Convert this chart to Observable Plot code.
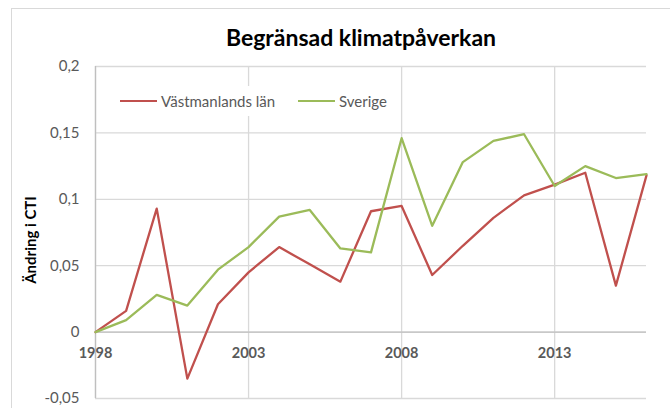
<!DOCTYPE html>
<html><head><meta charset="utf-8">
<script src="https://cdn.jsdelivr.net/npm/d3@7"></script>
<script src="https://cdn.jsdelivr.net/npm/@observablehq/plot@0.6"></script>
<style>
body{margin:0;background:#fff;font-family:Lato, sans-serif;}
#wrap{position:relative;width:670px;height:408px;overflow:hidden;background:#fff;}
#frame{position:absolute;left:11px;top:8px;width:700px;height:440px;border:1.5px solid #d9d9d9;box-sizing:border-box;}
#chart{position:absolute;left:0;top:0;}
#title{position:absolute;left:0;width:722px;top:22px;text-align:center;font-weight:bold;font-size:23px;color:#000;line-height:30px;}
#ylabel{position:absolute;left:30px;top:240px;transform:translate(-50%,-50%) rotate(-90deg);font-weight:bold;font-size:15px;color:#000;white-space:nowrap;}
#legend{position:absolute;left:112px;top:86px;height:30px;width:283px;background:#fff;}
.item{position:absolute;top:0;height:30px;display:flex;align-items:center;font-size:15px;color:#595959;white-space:nowrap;}
.swatch{display:inline-block;width:37px;height:0;border-top:2.5px solid;margin-right:4px;}
</style></head><body>
<div id="wrap">
<div id="frame"></div>
<div id="chart"></div>
<div id="title">Begränsad klimatpåverkan</div>
<div id="ylabel">Ändring i CTI</div>
<div id="legend"></div>
</div>
<script>
const years = [1998,1999,2000,2001,2002,2003,2004,2005,2006,2007,2008,2009,2010,2011,2012,2013,2014,2015,2016];
const vastmanland = [0,0.016,0.093,-0.035,0.021,0.045,0.064,0.051,0.038,0.091,0.095,0.043,0.065,0.086,0.103,0.111,0.120,0.035,0.118];
const sverige = [0,0.009,0.028,0.020,0.047,0.064,0.087,0.092,0.063,0.060,0.146,0.080,0.128,0.144,0.149,0.110,0.125,0.116,0.119];
const seriesNames = ["Västmanlands län","Sverige"];
const seriesColors = ["#c0504d","#9bbb59"];
const yTicks = [-0.05,0,0.05,0.1,0.15,0.2];
const xTicks = [1998,2003,2008,2013];

const data = years.flatMap((yr,i)=>[
  {year:yr,value:vastmanland[i],series:seriesNames[0]},
  {year:yr,value:sverige[i],series:seriesNames[1]}
]);

const chart = Plot.plot({
  width:670,height:408,
  marginLeft:95,marginRight:24,marginTop:66,marginBottom:10,
  x:{domain:[1998,2016],axis:null},
  y:{domain:[-0.05,0.2],axis:null},
  color:{domain:seriesNames,range:seriesColors},
  style:{fontFamily:"Lato, sans-serif",background:"transparent",overflow:"visible"},
  marks:[
    Plot.ruleY(yTicks,{stroke:"#d9d9d9",strokeWidth:1.3}),
    Plot.ruleX(xTicks,{stroke:"#d9d9d9",strokeWidth:1.3}),
    Plot.ruleX([1998],{stroke:"#bfbfbf",strokeWidth:1.3}),
    Plot.ruleY([0],{stroke:"#bfbfbf",strokeWidth:1.3}),
    Plot.line(data,{x:"year",y:"value",z:"series",stroke:"series",strokeWidth:2.3}),
    Plot.axisY(yTicks,{tickFormat:d=>String(d).replace(".",","),tickSize:0,tickPadding:16,fontSize:15,color:"#595959",label:null}),
    Plot.text(xTicks,{x:d=>d,y:0,dy:21,text:d=>String(d),fontWeight:"bold",fontSize:14.5,fill:"#595959"})
  ]
});
document.getElementById("chart").appendChild(chart);

const legend = document.getElementById("legend");
const offsets = [8,186];
seriesNames.forEach((name,i)=>{
  const it = document.createElement("div");
  it.className = "item";
  it.style.left = offsets[i]+"px";
  const sw = document.createElement("span");
  sw.className = "swatch";
  sw.style.borderColor = seriesColors[i];
  it.appendChild(sw);
  it.appendChild(document.createTextNode(name));
  legend.appendChild(it);
});
</script>
</body></html>
